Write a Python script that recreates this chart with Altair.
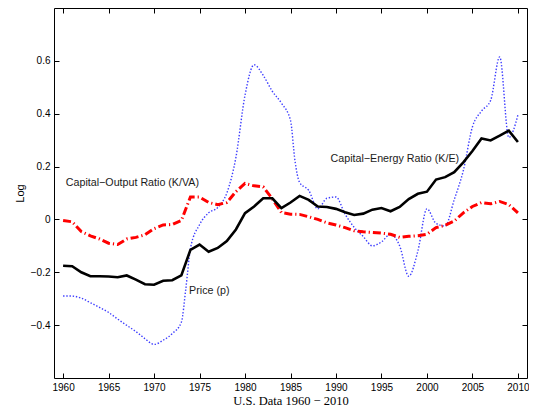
import altair as alt
import pandas as pd

# ---- data ----
years = list(range(1960, 2011))

capital_energy = [
    -0.175, -0.177, -0.200, -0.215, -0.215, -0.216, -0.219, -0.212, -0.228, -0.245,
    -0.247, -0.232, -0.230, -0.212, -0.115, -0.095, -0.122, -0.108, -0.082, -0.038,
    0.024, 0.049, 0.080, 0.080, 0.043, 0.064, 0.089, 0.074, 0.049, 0.047,
    0.040, 0.027, 0.017, 0.022, 0.037, 0.043, 0.031, 0.047, 0.077, 0.097,
    0.105, 0.151, 0.160, 0.179, 0.216, 0.259, 0.306, 0.299, 0.317, 0.336,
    0.293,
]

capital_output = [
    -0.004, -0.009, -0.046, -0.062, -0.074, -0.090, -0.095, -0.074, -0.068, -0.058,
    -0.035, -0.021, -0.019, -0.004, 0.085, 0.085, 0.064, 0.056, 0.064, 0.105,
    0.136, 0.127, 0.123, 0.078, 0.026, 0.020, 0.019, 0.010, 0.000, -0.013,
    -0.021, -0.031, -0.043, -0.047, -0.049, -0.052, -0.056, -0.068, -0.064, -0.062,
    -0.056, -0.031, -0.022, -0.006, 0.025, 0.049, 0.064, 0.059, 0.068, 0.056,
    0.025,
]

price_years = [
    1960, 1961, 1962, 1963, 1964, 1965, 1966, 1967, 1968, 1969,
    1970, 1971, 1972, 1973, 1973.5, 1974, 1975, 1976, 1977, 1978,
    1979, 1980, 1981, 1982, 1983, 1984, 1985, 1985.5, 1986, 1987,
    1988, 1989, 1990, 1991, 1992, 1993, 1994, 1995, 1996, 1997,
    1998, 1999, 2000, 2001, 2002, 2003, 2004, 2005, 2006, 2007,
    2008, 2009, 2010,
]
price = [
    -0.290, -0.290, -0.298, -0.315, -0.333, -0.352, -0.377, -0.401, -0.424, -0.451,
    -0.473, -0.457, -0.432, -0.389, -0.260, -0.110, -0.020, 0.025, 0.045, 0.100,
    0.235, 0.470, 0.585, 0.545, 0.485, 0.440, 0.375, 0.220, 0.140, 0.110,
    0.040, 0.080, 0.085, 0.020, -0.030, -0.065, -0.100, -0.085, -0.056, -0.100,
    -0.215, -0.120, 0.040, -0.015, -0.025, 0.075, 0.185, 0.350, 0.410, 0.450,
    0.615, 0.310, 0.395,
]

label_texts = ["Capital\u2212Output Ratio (K/VA)", "Capital\u2212Energy Ratio (K/E)", "Price (p)"]
label_years = [1960.3, 1989.4, 1973.85]
label_values = [0.138, 0.228, -0.271]

x_ticks = [1960, 1965, 1970, 1975, 1980, 1985, 1990, 1995, 2000, 2005, 2010]
y_ticks = [-0.4, -0.2, 0, 0.2, 0.4, 0.6]

x_title = "U.S. Data 1960 \u2212 2010"
y_title = "Log"

# ---- tables ----
df_ke = pd.DataFrame({"year": years, "value": capital_energy})
df_kva = pd.DataFrame({"year": years, "value": capital_output})
df_p = pd.DataFrame({"year": price_years, "value": price})
df_lab = pd.DataFrame({"year": label_years, "value": label_values, "label": label_texts})

xscale = alt.Scale(domain=[1959, 2011], nice=False, zero=False)
yscale = alt.Scale(domain=[-0.6, 0.8], nice=False, zero=False)

SANS = "Liberation Sans"

x_plain = alt.X("year:Q", scale=xscale, axis=None)
y_plain = alt.Y("value:Q", scale=yscale, axis=None)

common_axis = dict(
    domain=False, grid=False, tickSize=5, tickColor="black", tickWidth=1,
    offset=-5, labelFlush=False, labelOverlap=False, labelBound=False,
)

axes_main = alt.Chart(df_ke).mark_line(opacity=0).encode(
    x=alt.X("year:Q", scale=xscale, axis=alt.Axis(
        orient="bottom", values=x_ticks, format="d", labelFont=SANS, labelFontSize=10,
        labelColor="black", labelPadding=4, title=x_title,
        titleFont="Liberation Serif", titleFontSize=12.5, titleFontWeight="normal",
        titleColor="black", titlePadding=2, **common_axis)),
    y=alt.Y("value:Q", scale=yscale, axis=alt.Axis(
        orient="left", values=y_ticks, format="~g", labelFont=SANS, labelFontSize=10,
        labelColor="black", labelPadding=4, title=y_title, titleFont=SANS,
        titleFontSize=11, titleFontWeight="normal", titleColor="black",
        titlePadding=5, **common_axis)),
)

axes_mirror = alt.Chart(df_ke).mark_line(opacity=0).encode(
    x=alt.X("year:Q", scale=xscale, axis=alt.Axis(
        orient="top", values=x_ticks, labels=False, title=None, **common_axis)),
    y=alt.Y("value:Q", scale=yscale, axis=alt.Axis(
        orient="right", values=y_ticks, labels=False, title=None, **common_axis)),
)

line_p = alt.Chart(df_p).mark_line(
    color="#1a1aff", strokeWidth=1.4, strokeDash=[1.4, 1.8], interpolate="monotone", opacity=0.85
).encode(x=x_plain, y=y_plain)

line_kva = alt.Chart(df_kva).mark_line(
    color="#ff0000", strokeWidth=3, strokeDash=[8, 3, 1.2, 3], strokeCap="butt"
).encode(x=x_plain, y=y_plain)

line_ke = alt.Chart(df_ke).mark_line(
    color="#000000", strokeWidth=2.6
).encode(x=x_plain, y=y_plain)

labels = alt.Chart(df_lab).mark_text(
    align="left", baseline="middle", font=SANS, fontSize=10.7, color="#1a1a1a"
).encode(x=x_plain, y=y_plain, text="label:N")

chart = alt.layer(
    axes_main, axes_mirror, line_p, line_kva, line_ke, labels
).resolve_axis(
    x="independent", y="independent"
).properties(
    width=473, height=370,
    autosize=alt.AutoSizeParams(type="none"),
    padding={"left": 46, "top": 0, "right": 2, "bottom": 31},
    background="white",
).configure_view(
    stroke="black", strokeWidth=1
)

chart.save("out.html", embed_options={"renderer": "svg", "actions": False})
